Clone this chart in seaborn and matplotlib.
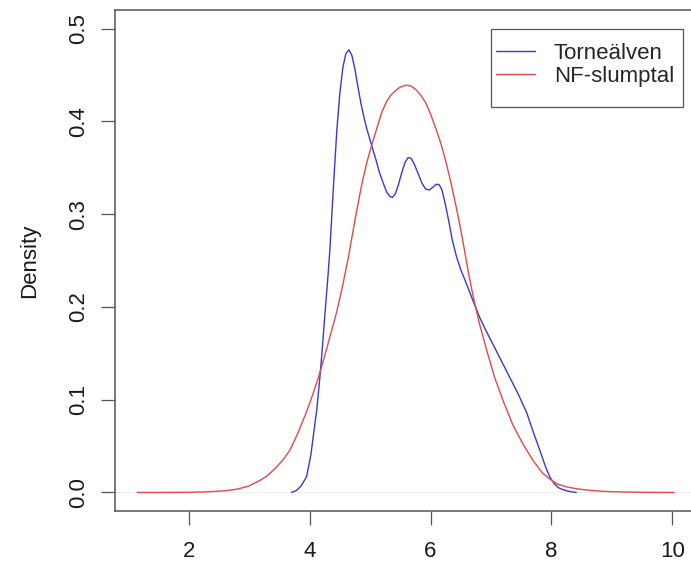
import matplotlib
matplotlib.use("Agg")
import matplotlib.pyplot as plt
from matplotlib.patches import Rectangle
import seaborn as sns
import pandas as pd

# Density curve of Torneälven data
torne_x = [3.70, 3.78, 3.86, 3.95, 4.02, 4.06, 4.12, 4.17, 4.21, 4.25, 4.30, 4.335,
           4.39, 4.45, 4.50, 4.55, 4.60, 4.65, 4.70, 4.75, 4.80, 4.85, 4.90, 4.95,
           5.00, 5.05, 5.10, 5.15, 5.22, 5.28, 5.33, 5.37, 5.42, 5.47, 5.53, 5.58,
           5.63, 5.68, 5.73, 5.80, 5.86, 5.92, 5.98, 6.04, 6.09, 6.14, 6.19, 6.24,
           6.30, 6.36, 6.43, 6.50, 6.60, 6.70, 6.81, 6.92, 7.03, 7.17, 7.31, 7.45,
           7.59, 7.70, 7.81, 7.90, 7.97, 8.05, 8.12, 8.19, 8.30, 8.41]
torne_y = [0.000, 0.002, 0.007, 0.017, 0.040, 0.060, 0.090, 0.124, 0.155, 0.189, 0.230, 0.261,
           0.325, 0.390, 0.430, 0.458, 0.473, 0.477, 0.471, 0.456, 0.437, 0.419, 0.404, 0.391,
           0.380, 0.369, 0.358, 0.346, 0.333, 0.323, 0.319, 0.318, 0.322, 0.332, 0.346, 0.356,
           0.361, 0.360, 0.354, 0.343, 0.333, 0.327, 0.326, 0.329, 0.332, 0.332, 0.326, 0.312,
           0.293, 0.272, 0.254, 0.240, 0.224, 0.207, 0.189, 0.174, 0.160, 0.142, 0.124, 0.106,
           0.086, 0.065, 0.045, 0.028, 0.017, 0.009, 0.005, 0.003, 0.001, 0.000]

# Density curve of normally distributed random numbers (NF-slumptal)
nf_x = [1.15, 1.60, 2.00, 2.30, 2.60, 2.80, 3.00, 3.18, 3.30, 3.45, 3.57, 3.67,
        3.80, 3.95, 4.06, 4.17, 4.30, 4.45, 4.55, 4.64, 4.70, 4.78, 4.86, 4.94,
        5.02, 5.11, 5.19, 5.27, 5.34, 5.42, 5.50, 5.60, 5.68, 5.76, 5.84, 5.92,
        6.00, 6.10, 6.18, 6.26, 6.34, 6.43, 6.50, 6.57, 6.63, 6.70, 6.80, 6.93,
        7.06, 7.20, 7.36, 7.53, 7.70, 7.85, 7.98, 8.10, 8.25, 8.41, 8.60, 8.80,
        9.00, 9.20, 9.60, 10.03]
nf_y = [0.0, 0.00002, 0.0002, 0.0006, 0.0018, 0.0035, 0.007, 0.013, 0.018, 0.027, 0.036, 0.045,
        0.063, 0.087, 0.107, 0.129, 0.159, 0.195, 0.224, 0.253, 0.275, 0.304, 0.331, 0.354,
        0.373, 0.392, 0.409, 0.421, 0.428, 0.433, 0.437, 0.439, 0.438, 0.434, 0.428, 0.420,
        0.408, 0.390, 0.374, 0.355, 0.333, 0.306, 0.283, 0.258, 0.236, 0.213, 0.184, 0.153,
        0.124, 0.099, 0.073, 0.052, 0.034, 0.021, 0.014, 0.009, 0.006, 0.004, 0.0025, 0.0014,
        0.0008, 0.0005, 0.0001, 0.0]

series_names = ["Torneälven", "NF-slumptal"]
series_colors = ["#3838d6", "#e44848"]
x_ticks = [2, 4, 6, 8, 10]
y_ticks = [0.0, 0.1, 0.2, 0.3, 0.4, 0.5]
y_tick_labels = ["0.0", "0.1", "0.2", "0.3", "0.4", "0.5"]

df = pd.concat([
    pd.DataFrame({"x": torne_x, "y": torne_y, "serie": series_names[0]}),
    pd.DataFrame({"x": nf_x, "y": nf_y, "serie": series_names[1]}),
], ignore_index=True)

sns.set_theme(style="white")
plt.rcParams["font.family"] = ["Liberation Sans", "DejaVu Sans"]
FS = 16

W, H = 691, 563
fig = plt.figure(figsize=(W / 100, H / 100), dpi=100)
left, right, top, bottom = 115, 696, 10, 511
ax = fig.add_axes([left / W, 1 - bottom / H, (right - left) / W, (bottom - top) / H])

ax.axhline(0, color="#ececec", lw=0.6, zorder=0)
sns.lineplot(data=df, x="x", y="y", hue="serie", palette=series_colors,
             hue_order=series_names, sort=False, estimator=None, lw=1.0, ax=ax)

ax.set_xlim(0.782, 10.39)
ax.set_ylim(-0.02, 0.52)
ax.set_xticks(x_ticks)
ax.set_xticklabels([str(v) for v in x_ticks])
ax.set_yticks(y_ticks)
ax.set_yticklabels(y_tick_labels, rotation=90, va="center")

for s in ax.spines.values():
    s.set_color("#555555")
    s.set_linewidth(1.1)

ax.tick_params(axis="both", direction="out", length=9.9, width=0.9, color="#555555",
               labelsize=FS, labelcolor="#1a1a1a")
ax.tick_params(axis="x", pad=12, bottom=True)
ax.tick_params(axis="y", pad=9, left=True)

ax.set_xlabel("")
ax.set_ylabel("Density", fontsize=FS, color="#1a1a1a", va="center")
ax.yaxis.set_label_coords((30 - left) / (right - left), 0.5)

# legend content without frame, R-style frame drawn separately
leg = ax.legend(loc="upper left", bbox_to_anchor=(496 / W, 1 - 43 / H),
                bbox_transform=fig.transFigure, fontsize=FS, frameon=False,
                handlelength=1.75, handletextpad=0.85, labelspacing=0.1,
                borderpad=0, borderaxespad=0)
for line in leg.get_lines():
    line.set_linewidth(1.0)
fig.add_artist(Rectangle((491 / W, 1 - 107 / H), (683 - 491) / W, (107 - 29) / H,
                         transform=fig.transFigure, fill=True, facecolor="white",
                         edgecolor="#555555", lw=0.9, zorder=4))
leg.set_zorder(5)
fig.add_artist(leg)

fig.savefig("out.png", dpi=100)
